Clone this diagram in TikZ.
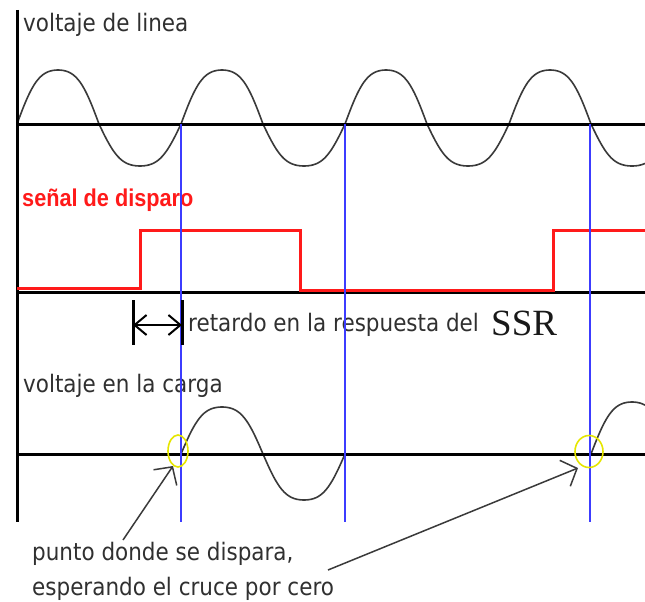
\documentclass[tikz,border=0pt]{standalone}
\usepackage{fontspec}
\setmainfont{DejaVu Sans}
\newfontfamily\redfont{Liberation Sans}
\newfontfamily\ssrfont{Liberation Serif}
\usetikzlibrary{arrows.meta,shapes.geometric}
\definecolor{txtgray}{HTML}{303030}
\definecolor{wavegray}{HTML}{3A3A3A}
\definecolor{markblue}{HTML}{3C3CFF}
\definecolor{trigred}{HTML}{FF1A1A}
\definecolor{ringyellow}{HTML}{E6E600}
\newcommand{\tall}[1]{\scalebox{1}[1.12]{#1}}
\begin{document}
\begin{tikzpicture}[x=1pt,y=-1pt,
  axisline/.style={line width=3pt,black},
  wave/.style={line width=1.6pt,wavegray},
  marker/.style={line width=2pt,markblue},
  trig/.style={line width=3pt,trigred},
  ring/.style={line width=1.6pt,ringyellow},
  lbl/.style={anchor=base west,inner sep=0pt,text=txtgray,font=\fontsize{21.5}{24}\selectfont},
  redlbl/.style={anchor=base west,inner sep=0pt,text=trigred,font=\redfont\bfseries\fontsize{21.7}{24}\selectfont},
  ptr/.style={line width=1.5pt,wavegray,-{Straight Barb[length=13pt,width=28pt,line width=1.5pt]}},
  delay/.style={line width=2pt,black,{Straight Barb[length=12pt,width=20pt,line width=2pt]}-{Straight Barb[length=12pt,width=20pt,line width=2pt]}},
  tick/.style={line width=3pt,black}]
\useasboundingbox (0,0) rectangle (645,602);
\fill[white] (0,0) rectangle (645,602);

% line voltage
\foreach \a/\xa/\xb in {54/17/99,-42/99/181,54/181/263,-42/263/345,54/345/427,-42/427/509,54/509/591,-42/591/645}
  \draw[wave] plot[domain=\xa:\xb,samples=40,smooth] (\x,{124-\a*(sin(180*((\x-\xa)/82))+0.07*sin(540*((\x-\xa)/82)))/0.93});

% load voltage
\foreach \a/\xa/\xb in {47/181/263,-46/263/345,52/591/645}
  \draw[wave] plot[domain=\xa:\xb,samples=40,smooth] (\x,{454-\a*(sin(180*((\x-\xa)/82))+0.07*sin(540*((\x-\xa)/82)))/0.93});

% axes
\coordinate (axtop) at (17,10);
\coordinate (axbot) at (17,522);
\coordinate (l1a) at (17,124);  \coordinate (l1b) at (645,124);
\coordinate (l2a) at (17,292);  \coordinate (l2b) at (645,292);
\coordinate (l3a) at (17,454);  \coordinate (l3b) at (645,454);
\draw[axisline] (axtop) -- (axbot);
\draw[axisline] (l1a) -- (l1b);
\draw[axisline] (l2a) -- (l2b);
\draw[axisline] (l3a) -- (l3b);

% trigger signal
\coordinate (s0) at (17,288);
\coordinate (s1) at (140,288);
\coordinate (s2) at (140,230);
\coordinate (s3) at (300,230);
\coordinate (s4) at (300,290);
\coordinate (s5) at (553,290);
\coordinate (s6) at (553,230);
\coordinate (s7) at (645,230);
\draw[trig,line join=miter] (s0) -- (s1) -- (s2) -- (s3) -- (s4) -- (s5) -- (s6) -- (s7);

% labels
\node[lbl] (tline) at (23,32) {\tall{voltaje de linea}};
\node[redlbl] (tsig) at (22,206) {\tall{señal de disparo}};
\node[lbl] (tdelay) at (188,331) {\tall{retardo en la respuesta del}};
\node[anchor=base west,inner sep=0pt,text=black!90,font=\ssrfont\fontsize{37}{40}\selectfont] (tssr) at (491,335) {SSR};
\node[lbl] (tload) at (23,392) {\tall{voltaje en la carga}};
\node[lbl] (tpt1) at (32,560) {\tall{punto donde se dispara,}};
\node[lbl] (tpt2) at (32,595) {\tall{esperando el cruce por cero}};

% blue markers
\coordinate (b1t) at (181,124); \coordinate (b1b) at (181,522);
\coordinate (b2t) at (345,124); \coordinate (b2b) at (345,522);
\coordinate (b3t) at (590,124); \coordinate (b3b) at (590,522);
\draw[marker] (b1t) -- (b1b);
\draw[marker] (b2t) -- (b2b);
\draw[marker] (b3t) -- (b3b);

% delay marker
\coordinate (d1t) at (133,300); \coordinate (d1b) at (133,345);
\coordinate (d2t) at (182,300); \coordinate (d2b) at (182,345);
\draw[tick] (d1t) -- (d1b);
\draw[tick] (d2t) -- (d2b);
\coordinate (da) at (133,325); \coordinate (db) at (182,325);
\draw[delay] (da) -- (db);

% rings
\node[ring,draw,ellipse,minimum width=20pt,minimum height=32pt,inner sep=0pt] (r1) at (178,451) {};
\node[ring,draw,ellipse,minimum width=28pt,minimum height=32pt,inner sep=0pt] (r2) at (589,451.5) {};

% pointers
\coordinate (p1s) at (123,540); \coordinate (p1e) at (173,466);
\coordinate (p2s) at (328,570); \coordinate (p2e) at (578,468);
\draw[ptr] (p1s) -- (p1e);
\draw[ptr] (p2s) -- (p2e);
\end{tikzpicture}
\end{document}
